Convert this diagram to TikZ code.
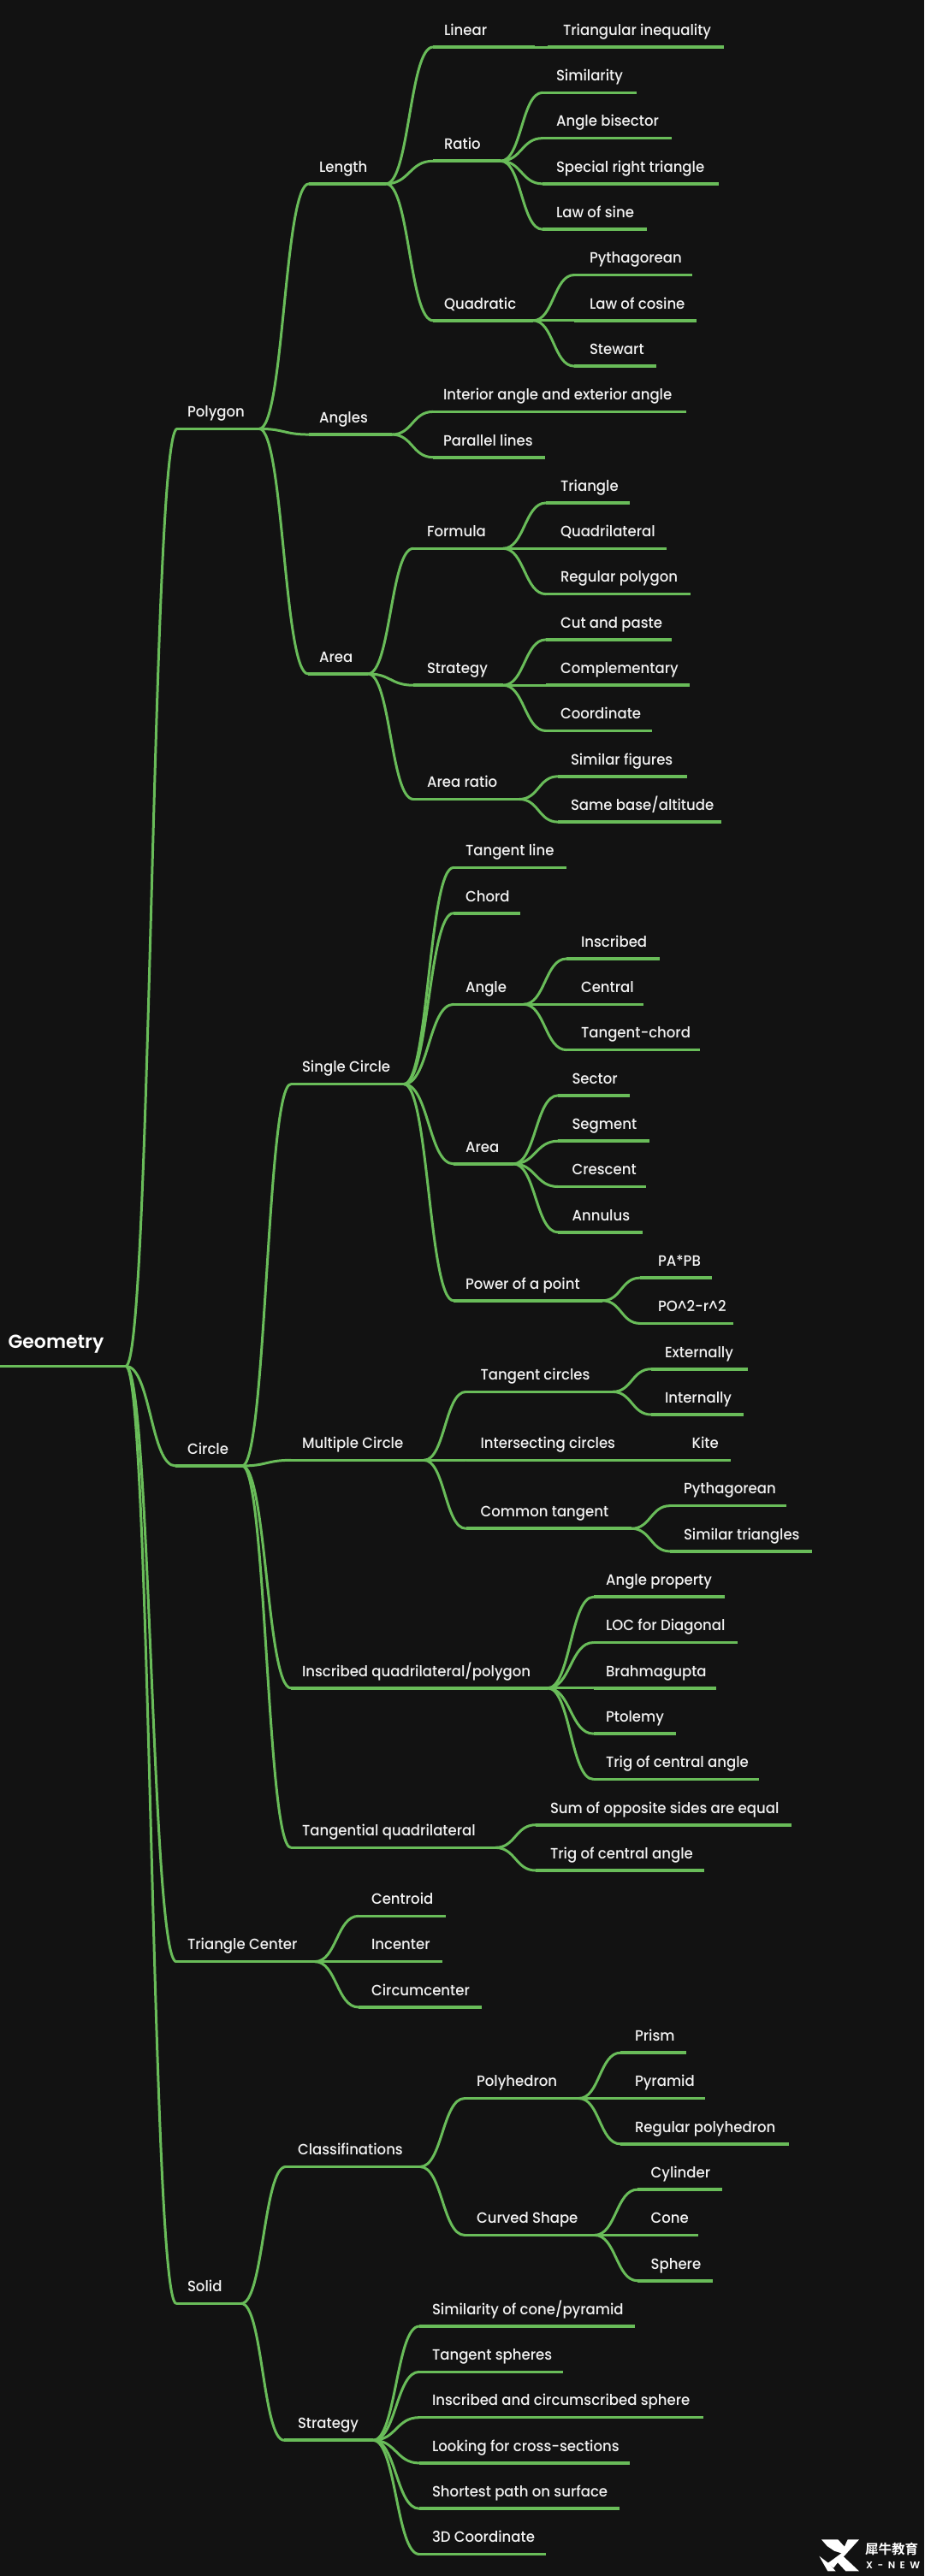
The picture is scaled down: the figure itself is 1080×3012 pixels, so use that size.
\documentclass[tikz,border=0pt]{standalone}
\usepackage{fontspec}
\setmainfont{Poppins Medium}[FakeStretch=0.945]
\newfontfamily\rootfont{Poppins SemiBold}
\newfontfamily\cjkfont{Noto Sans CJK SC Bold}
\usetikzlibrary{calc}
\definecolor{bgdark}{HTML}{121212}
\definecolor{mapgreen}{HTML}{69BC59}
\definecolor{labelwhite}{HTML}{F2F2F2}
\tikzset{
  linkline/.style={draw=mapgreen,line width=3pt,line cap=round},
  underline/.style={draw=mapgreen,line width=3.6pt},
  lab/.style={text=labelwhite,font=\fontsize{17.5}{20}\selectfont,anchor=base west,inner sep=0pt,outer sep=0pt},
  rootlab/.style={text=white,font=\rootfont\fontsize{22}{24}\selectfont,anchor=base west,inner sep=0pt,outer sep=0pt},
}
% #1 name, #2 parent, #3 line start x, #4 line end x, #5 row, #6 text x, #7 text
\newcommand\branch[7]{%
  \pgfmathsetmacro\rowy{55+53.3*#5}%
  \coordinate (#1s) at (#3,\rowy);
  \coordinate (#1e) at (#4,\rowy);
  \node[lab] (#1t) at (#6,\rowy-13.7) {#7};
  \draw[linkline] let \p1=(#2e),\p2=(#1s),\n1={(\x1+\x2)/2} in (\p1) .. controls (\n1,\y1) and (\n1,\y2) .. (\p2);
  \draw[underline] (#1s) -- (#1e);
}
\begin{document}
\begin{tikzpicture}[x=1pt,y=-1pt]
\fill[bgdark] (0,0) rectangle (1080,3012);
\useasboundingbox (0,0) rectangle (1080,3012);
% root
\pgfmathsetmacro\rooty{55+53.3*28.9375}
\coordinate (geoS) at (0,\rooty);
\coordinate (geoe) at (147,\rooty);
\node[rootlab] (geot) at (9.5,\rooty-21) {Geometry};
\draw[underline] (geoS) -- (geoe);
% Polygon
\branch{poly}{geo}{207}{303}{8.375}{219}{Polygon}
\branch{len}{poly}{361}{451}{3}{373}{Length}
\branch{lin}{len}{506}{625}{0}{519}{Linear}
\branch{tri}{lin}{640}{846}{0}{658}{Triangular inequality}
\branch{rat}{len}{506}{585}{2.5}{519}{Ratio}
\branch{sim}{rat}{634}{744}{1}{650}{Similarity}
\branch{bis}{rat}{634}{785}{2}{650}{Angle bisector}
\branch{srt}{rat}{634}{840}{3}{650}{Special right triangle}
\branch{los}{rat}{634}{756}{4}{650}{Law of sine}
\branch{qua}{len}{506}{623}{6}{519}{Quadratic}
\branch{pyt}{qua}{671}{809}{5}{689}{Pythagorean}
\branch{loc}{qua}{671}{814}{6}{689}{Law of cosine}
\branch{ste}{qua}{671}{767}{7}{689}{Stewart}
\branch{ang}{poly}{361}{458}{8.5}{373}{Angles}
\branch{int}{ang}{506}{802}{8}{518}{Interior angle and exterior angle}
\branch{par}{ang}{506}{637}{9}{518}{Parallel lines}
\branch{are}{poly}{360}{430}{13.75}{373}{Area}
\branch{for}{are}{483}{588}{11}{499}{Formula}
\branch{ftr}{for}{638}{736}{10}{655}{Triangle}
\branch{fqu}{for}{638}{779}{11}{655}{Quadrilateral}
\branch{frp}{for}{638}{807}{12}{655}{Regular polygon}
\branch{str}{are}{483}{588}{14}{499}{Strategy}
\branch{cut}{str}{638}{785}{13}{655}{Cut and paste}
\branch{com}{str}{638}{806}{14}{655}{Complementary}
\branch{coo}{str}{638}{762}{15}{655}{Coordinate}
\branch{arr}{are}{483}{607}{16.5}{499}{Area ratio}
\branch{sif}{arr}{652}{803}{16}{667}{Similar figures}
\branch{sba}{arr}{652}{843}{17}{667}{Same base/altitude}
% Circle
\branch{cir}{geo}{205}{283}{31.125}{219}{Circle}
\branch{sgl}{cir}{340}{472}{22.75}{353}{Single Circle}
\branch{tln}{sgl}{530}{662}{18}{544}{Tangent line}
\branch{cho}{sgl}{530}{608}{19}{544}{Chord}
\branch{agl}{sgl}{530}{612}{21}{544}{Angle}
\branch{ins}{agl}{662}{771}{20}{679}{Inscribed}
\branch{cen}{agl}{662}{752}{21}{679}{Central}
\branch{tch}{agl}{662}{818}{22}{679}{Tangent-chord}
\branch{ara}{sgl}{530}{600}{24.5}{544}{Area}
\branch{sec}{ara}{652}{735.5}{23}{668.5}{Sector}
\branch{seg}{ara}{652}{759}{24}{668.5}{Segment}
\branch{cre}{ara}{652}{755}{25}{668.5}{Crescent}
\branch{ann}{ara}{652}{751}{26}{668.5}{Annulus}
\branch{pow}{sgl}{530}{704}{27.5}{544}{Power of a point}
\branch{pap}{pow}{748}{832}{27}{769}{PA*PB}
\branch{pop}{pow}{748}{857}{28}{769}{PO\char94 2-r\char94 2}
\branch{mul}{cir}{340}{495.5}{31}{353}{Multiple Circle}
\branch{tci}{mul}{544.5}{716}{29.5}{561.6}{Tangent circles}
\branch{ext}{tci}{761}{874}{29}{777}{Externally}
\branch{inn}{tci}{761}{869}{30}{777}{Internally}
\branch{ici}{mul}{544.5}{750}{31}{561.6}{Intersecting circles}
\branch{kit}{ici}{770}{854}{31}{808.6}{Kite}
\branch{cta}{mul}{544.5}{738}{32.5}{561.6}{Common tangent}
\branch{cpy}{cta}{783}{919}{32}{799}{Pythagorean}
\branch{stn}{cta}{783}{949}{33}{799}{Similar triangles}
\branch{iqp}{cir}{340}{640}{36}{353}{Inscribed quadrilateral/polygon}
\branch{apr}{iqp}{693.5}{847}{34}{708}{Angle property}
\branch{lfd}{iqp}{693.5}{861.6}{35}{708}{LOC for Diagonal}
\branch{bra}{iqp}{693.5}{837}{36}{708}{Brahmagupta}
\branch{pto}{iqp}{693.5}{790}{37}{708}{Ptolemy}
\branch{tca}{iqp}{693.5}{887}{38}{708}{Trig of central angle}
\branch{tqu}{cir}{340}{579}{39.5}{353}{Tangential quadrilateral}
\branch{sos}{tqu}{626}{925}{39}{643}{Sum of opposite sides are equal}
\branch{tcb}{tqu}{626}{823}{40}{643}{Trig of central angle}
% Triangle Center
\branch{tce}{geo}{206}{368}{42}{219}{Triangle Center}
\branch{cnt}{tce}{419}{521}{41}{434}{Centroid}
\branch{inc}{tce}{419}{517}{42}{434}{Incenter}
\branch{ccm}{tce}{419}{563}{43}{434}{Circumcenter}
% Solid
\branch{sol}{geo}{206}{282}{49.5}{219}{Solid}
\branch{cla}{sol}{334}{491}{46.5}{348}{Classifinations}
\branch{phd}{cla}{543}{676.5}{45}{557}{Polyhedron}
\branch{pri}{phd}{725}{802}{44}{742}{Prism}
\branch{pyr}{phd}{725}{824}{45}{742}{Pyramid}
\branch{rph}{phd}{725}{922}{46}{742}{Regular polyhedron}
\branch{cur}{cla}{543}{695}{48}{557}{Curved Shape}
\branch{cyl}{cur}{745}{844}{47}{760.6}{Cylinder}
\branch{con}{cur}{745}{816}{48}{760.6}{Cone}
\branch{sph}{cur}{745}{833}{49}{760.6}{Sphere}
\branch{sst}{sol}{332}{436}{52.5}{348}{Strategy}
\branch{scp}{sst}{490}{741.6}{50}{505}{Similarity of cone/pyramid}
\branch{tsp}{sst}{490}{657.5}{51}{505}{Tangent spheres}
\branch{ics}{sst}{490}{822}{52}{505}{Inscribed and circumscribed sphere}
\branch{lcs}{sst}{490}{735.5}{53}{505}{Looking for cross-sections}
\branch{spa}{sst}{490}{724}{54}{505}{Shortest path on surface}
\branch{tdc}{sst}{490}{638}{55}{505}{3D Coordinate}
% watermark
\begin{scope}[shift={(950,2962)},x=0.3333pt,y=-0.3333pt]
\fill[white] (30,22) -- (88,22) -- (118,55) -- (100,70) -- (75,62) -- (50,45) -- cycle;
\fill[white] (122,22) -- (162,22) -- (105,85) -- (85,105) -- (72,122) -- (52,105) -- (70,92) -- (100,70) -- cycle;
\fill[white] (100,75) -- (162,133) -- (115,133) -- (80,95) -- cycle;
\fill[white] (22,80) -- (55,105) -- (80,133) -- (52,133) -- cycle;
\end{scope}
\node[text=white,font=\cjkfont\fontsize{15.5}{16}\selectfont,anchor=base west,inner sep=0pt] (wmcn) at (1011,2986) {犀牛教育};
\node[text=white,font=\rootfont\fontsize{11.5}{12}\selectfont,anchor=base west,inner sep=0pt] (wmen) at (1012,3003) {X\hspace{5.5pt}-\hspace{5.5pt}N\hspace{5.5pt}E\hspace{5.5pt}W};
\end{tikzpicture}
\end{document}
